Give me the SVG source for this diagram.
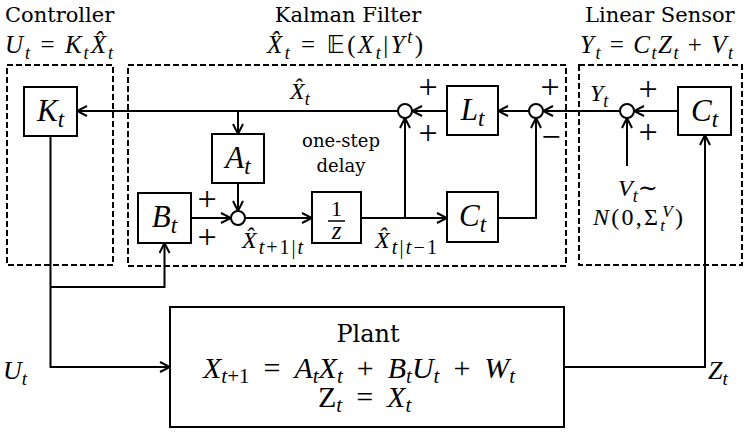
<svg xmlns="http://www.w3.org/2000/svg" width="747" height="433" viewBox="0 0 747 433">
<defs>
<marker id="arr" viewBox="0 0 12 12" refX="11" refY="6" markerWidth="12" markerHeight="12" markerUnits="userSpaceOnUse" orient="auto"><path d="M1,1 L11,6 L1,11" fill="none" stroke="#000" stroke-width="2"/></marker>
</defs>
<style>
.blk{fill:#fff;stroke:#000;stroke-width:2}
.dash{fill:none;stroke:#000;stroke-width:2;stroke-dasharray:6 3}
.w{fill:none;stroke:#000;stroke-width:2}
.a{marker-end:url(#arr)}
.sum{fill:#fff;stroke:#000;stroke-width:2}
.lbl{font-family:"DejaVu Serif",serif;fill:#000}
.m{font-family:"Liberation Serif","DejaVu Serif",serif;font-style:italic;fill:#000}
.up{font-style:normal}
.bb{font-family:"DejaVu Sans","DejaVu Serif",sans-serif;font-style:normal}
.pm{font-family:"Liberation Serif",serif;font-size:34px;fill:#000;text-anchor:middle}
</style>
<rect width="747" height="433" fill="#fff"/>

<g id="controller-frame">
<rect class="dash" x="7" y="65" width="106" height="200"/>
<text class="lbl" x="5" y="22" font-size="21">Controller</text>
<text class="m" x="5" y="53" font-size="25" textLength="108" lengthAdjust="spacing">U<tspan font-size="18" dy="6">t</tspan><tspan class="up" dy="-6"> = </tspan>K<tspan font-size="18" dy="6">t</tspan><tspan dy="-6">X̂</tspan><tspan font-size="18" dy="6">t</tspan></text>
</g>

<g id="kalman-frame">
<rect class="dash" x="128" y="65" width="438" height="201"/>
<text class="lbl" x="348" y="22" font-size="21" text-anchor="middle">Kalman Filter</text>
<text class="m" x="267" y="53" font-size="25" textLength="156" lengthAdjust="spacing">X̂<tspan font-size="18" dy="6">t</tspan><tspan class="up" dy="-6"> = </tspan><tspan class="bb">𝔼</tspan><tspan class="up">(</tspan>X<tspan font-size="18" dy="6">t</tspan><tspan class="up" dy="-6">|</tspan>Y<tspan font-size="18" dy="-10">t</tspan><tspan class="up" dy="10">)</tspan></text>
<text class="lbl" x="341" y="147" font-size="18" text-anchor="middle">one-step</text>
<text class="lbl" x="341" y="172" font-size="18" text-anchor="middle">delay</text>
</g>

<g id="sensor-frame">
<rect class="dash" x="579" y="65" width="163" height="200"/>
<text class="lbl" x="585" y="22" font-size="21">Linear Sensor</text>
<text class="m" x="580" y="53" font-size="25" textLength="153" lengthAdjust="spacing">Y<tspan font-size="18" dy="6">t</tspan><tspan class="up" dy="-6"> = </tspan>C<tspan font-size="18" dy="6">t</tspan><tspan dy="-6">Z</tspan><tspan font-size="18" dy="6">t</tspan><tspan class="up" dy="-6"> + </tspan>V<tspan font-size="18" dy="6">t</tspan></text>
</g>

<g id="connectors">
<line class="w a" x1="678" y1="111" x2="634" y2="111"/>
<line class="w a" x1="627" y1="166" x2="627" y2="118"/>
<line class="w a" x1="620" y1="111" x2="543" y2="111"/>
<line class="w a" x1="529" y1="111" x2="498" y2="111"/>
<line class="w a" x1="447" y1="111" x2="412" y2="111"/>
<line class="w a" x1="398" y1="111" x2="77" y2="111"/>
<line class="w a" x1="238" y1="111" x2="238" y2="134"/>
<line class="w a" x1="238" y1="183" x2="238" y2="211"/>
<line class="w a" x1="191" y1="218" x2="231" y2="218"/>
<line class="w a" x1="245" y1="218" x2="312" y2="218"/>
<line class="w a" x1="361" y1="218" x2="447" y2="218"/>
<line class="w a" x1="405" y1="218" x2="405" y2="118"/>
<polyline class="w a" points="498,218 536,218 536,118"/>
<polyline class="w a" points="50.5,136 50.5,367 170,367"/>
<polyline class="w a" points="50.5,287 164.5,287 164.5,243"/>
<polyline class="w a" points="564,367 705,367 705,135"/>
</g>

<g id="K">
<rect class="blk" x="24" y="87" width="53" height="49"/>
<text class="m" x="50.5" y="121" font-size="31" text-anchor="middle">K<tspan font-size="23" dy="6">t</tspan></text>
</g>
<g id="A">
<rect class="blk" x="212" y="134" width="52" height="49"/>
<text class="m" x="238" y="168" font-size="31" text-anchor="middle">A<tspan font-size="23" dy="6">t</tspan></text>
</g>
<g id="B">
<rect class="blk" x="138" y="193" width="53" height="50"/>
<text class="m" x="164.5" y="227" font-size="31" text-anchor="middle">B<tspan font-size="23" dy="6">t</tspan></text>
</g>
<g id="delay">
<rect class="blk" x="312" y="192" width="49" height="51"/>
<text class="m up" x="336.5" y="216" font-size="22" text-anchor="middle" font-style="normal">1</text>
<line x1="328" y1="221" x2="345" y2="221" stroke="#000" stroke-width="1.5"/>
<text class="m" x="336.5" y="239" font-size="25" text-anchor="middle">z</text>
</g>
<g id="Ck">
<rect class="blk" x="447" y="192" width="51" height="50"/>
<text class="m" x="472.5" y="226" font-size="31" text-anchor="middle">C<tspan font-size="23" dy="6">t</tspan></text>
</g>
<g id="L">
<rect class="blk" x="447" y="86" width="51" height="49"/>
<text class="m" x="472.5" y="120" font-size="31" text-anchor="middle">L<tspan font-size="23" dy="6">t</tspan></text>
</g>
<g id="Cs">
<rect class="blk" x="678" y="87" width="53" height="48"/>
<text class="m" x="704.5" y="121" font-size="31" text-anchor="middle">C<tspan font-size="23" dy="6">t</tspan></text>
</g>

<g id="sum-update">
<circle class="sum" cx="405" cy="111" r="7"/>
<text class="pm" x="428" y="97.5">+</text>
<text class="pm" x="428" y="143.5">+</text>
</g>
<g id="sum-innovation">
<circle class="sum" cx="536" cy="111" r="7"/>
<text class="pm" x="550" y="97.5">+</text>
<text class="pm" x="551" y="147.5">−</text>
</g>
<g id="sum-sensor">
<circle class="sum" cx="627" cy="111" r="7"/>
<text class="pm" x="648" y="99.5">+</text>
<text class="pm" x="648" y="142.5">+</text>
</g>
<g id="sum-predict">
<circle class="sum" cx="238" cy="218" r="7"/>
<text class="pm" x="207" y="209.5">+</text>
<text class="pm" x="207" y="247.5">+</text>
</g>

<g id="plant">
<rect class="blk" x="170" y="307" width="394" height="120"/>
<text class="lbl" x="368" y="342" font-size="24" text-anchor="middle">Plant</text>
<text class="m" x="203" y="378" font-size="30">X<tspan font-size="21" dy="5">t<tspan class="up">+1</tspan></tspan><tspan class="up" dx="14" dy="-5">=</tspan><tspan dx="14">A</tspan><tspan font-size="21" dy="5">t</tspan><tspan dy="-5">X</tspan><tspan font-size="21" dy="5">t</tspan><tspan class="up" dx="14" dy="-5">+</tspan><tspan dx="14">B</tspan><tspan font-size="21" dy="5">t</tspan><tspan dy="-5">U</tspan><tspan font-size="21" dy="5">t</tspan><tspan class="up" dx="14" dy="-5">+</tspan><tspan dx="14">W</tspan><tspan font-size="21" dy="5">t</tspan></text>
<text class="m" x="318" y="407" font-size="30"><tspan class="up">Z</tspan><tspan font-size="21" dy="5">t</tspan><tspan class="up" dx="14" dy="-5">=</tspan><tspan dx="14">X</tspan><tspan font-size="21" dy="5">t</tspan></text>
</g>

<g id="labels">
<text class="m" x="290" y="99" font-size="24">X̂<tspan font-size="18" dy="6">t</tspan></text>
<text class="m" x="590" y="101" font-size="24">Y<tspan font-size="18" dy="6">t</tspan></text>
<text class="m" x="242" y="248" font-size="24" textLength="61" lengthAdjust="spacing">X̂<tspan font-size="20" dy="6">t<tspan class="up">+1|</tspan>t</tspan></text>
<text class="m" x="375" y="248" font-size="24" textLength="62" lengthAdjust="spacing">X̂<tspan font-size="20" dy="6">t<tspan class="up">|</tspan>t<tspan class="up">−1</tspan></tspan></text>
<text class="m" x="618" y="196" font-size="24">V<tspan font-size="18" dy="6">t</tspan><tspan class="up" font-size="24" dy="-6">∼</tspan></text>
<text class="m" x="593" y="225" font-size="24" textLength="90" lengthAdjust="spacing">N<tspan class="up">(0,Σ</tspan><tspan font-size="17" dy="6">t</tspan><tspan font-size="17" dx="-5" dy="-14">V</tspan><tspan class="up" dy="8">)</tspan></text>
<text class="m" x="3" y="379" font-size="26">U<tspan font-size="19" dy="6">t</tspan></text>
<text class="m" x="708" y="379" font-size="26">Z<tspan font-size="19" dy="6">t</tspan></text>
</g>
</svg>
